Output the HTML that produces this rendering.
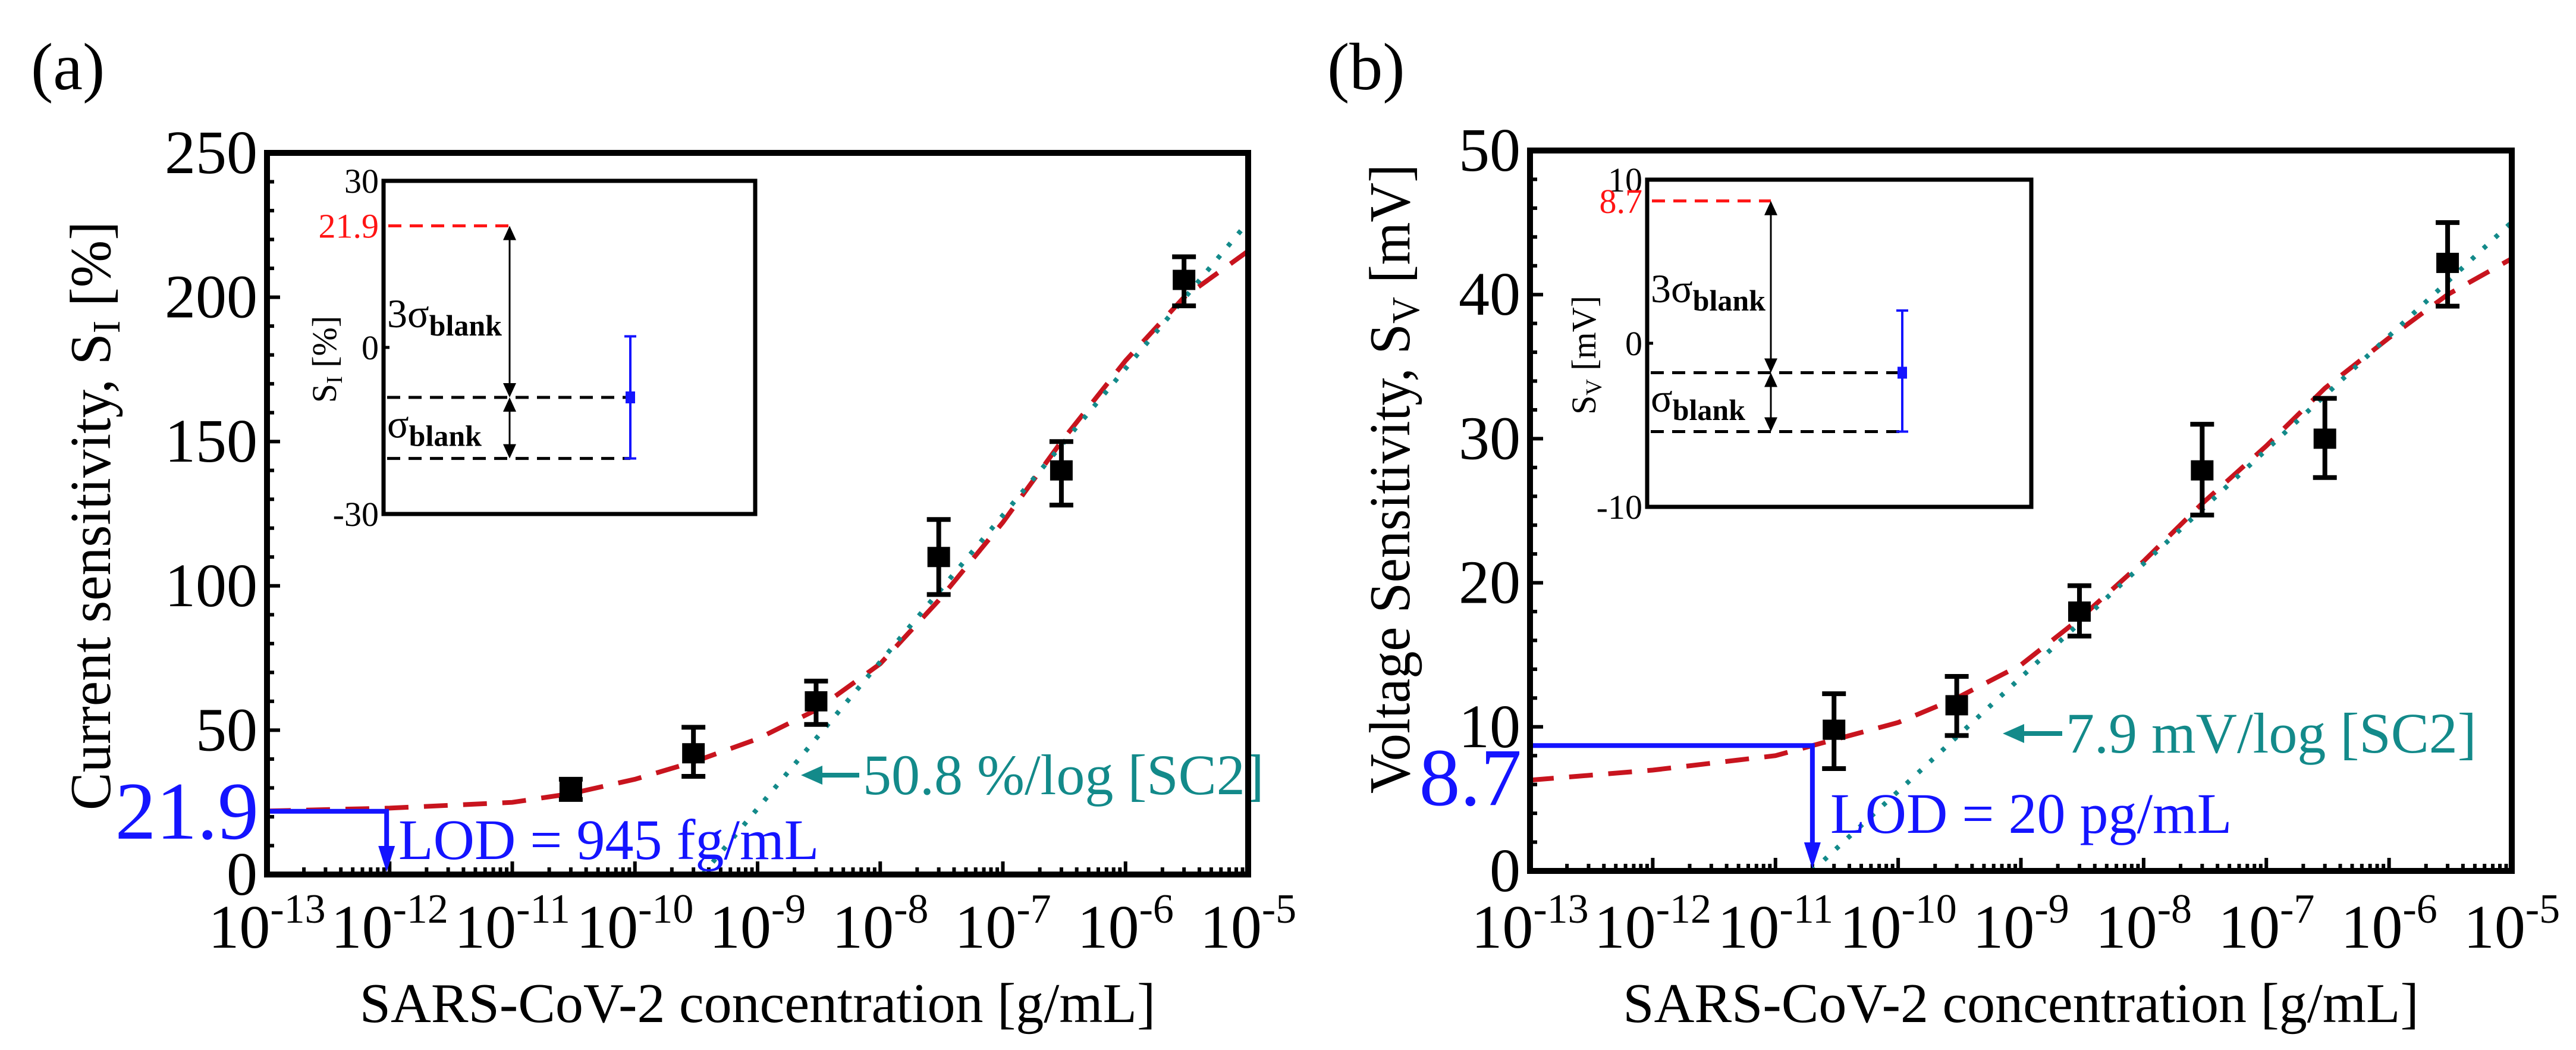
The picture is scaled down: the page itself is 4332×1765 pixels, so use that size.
<!DOCTYPE html>
<html><head><meta charset="utf-8"><style>
html,body{margin:0;padding:0;background:#fff;}
svg, svg text{font-family:"Liberation Serif","Times New Roman",serif;}
svg{display:block;}
</style></head><body>
<svg id="fig" width="4332" height="1765" viewBox="0 0 4332 1765" xmlns="http://www.w3.org/2000/svg" font-family="Liberation Serif, serif">
</svg>
<script>
// ---------- Panel (a) data ----------
const concA = [3e-11, 3e-10, 3e-9, 3e-8, 3e-7, 3e-6];
const valuesA = [29, 42, 60, 110, 140, 206];
const errLoA = [26, 34, 52, 97, 128, 197];
const errHiA = [33, 51, 67, 123, 150, 214];
const fitXA = [1e-13, 1e-12, 1e-11, 3e-11, 1e-10, 3e-10, 1e-9, 3e-9, 1e-8, 3e-8, 1e-7, 3e-7, 1e-6, 3e-6, 1e-5];
const fitYA = [22, 23, 25, 28, 33, 39, 47, 57, 73, 95, 122, 150, 178, 200, 216];
const slopeA = 50.8, logX0A = -9.45;
const lodA = 21.9, lodXA = 9.45e-13;
const yTicksA = [0, 50, 100, 150, 200, 250];
const insetTicksA = [30, 0, -30];
const insetBlankA = [-9, -20, 2]; // mean, lower, upper
// ---------- Panel (b) data ----------
const concB = [3e-11, 3e-10, 3e-9, 3e-8, 3e-7, 3e-6];
const valuesB = [9.8, 11.5, 18, 27.8, 30, 42.2];
const errLoB = [7.1, 9.4, 16.3, 24.7, 27.3, 39.2];
const errHiB = [12.3, 13.5, 19.8, 31, 32.8, 45];
const fitXB = [1e-13, 1e-12, 1e-11, 2e-11, 1e-10, 3e-10, 1e-9, 3e-9, 1e-8, 3e-8, 1e-7, 3e-7, 1e-6, 3e-6, 1e-5];
const fitYB = [6.3, 7.0, 8.0, 8.7, 10.3, 12, 14.3, 17.5, 21.5, 25.5, 29.5, 33.5, 37, 40, 42.5];
const slopeB = 7.9, logX0B = -10.7;
const lodB = 8.7, lodXB = 2e-11;
const yTicksB = [0, 10, 20, 30, 40, 50];
const insetTicksB = [10, 0, -10];
const insetBlankB = [-1.8, -5.4, 2.0];
const xDecades = [-13, -12, -11, -10, -9, -8, -7, -6, -5];

const NS = "http://www.w3.org/2000/svg";
const svg = document.getElementById('fig');
function mk(tag, attrs, parent, text) {
  const e = document.createElementNS(NS, tag);
  for (const k in attrs) e.setAttribute(k, attrs[k]);
  if (tag === 'text') e.setAttribute('font-family', 'Liberation Serif, serif');
  if (text !== undefined) e.textContent = text;
  (parent || svg).appendChild(e);
  return e;
}

function panel(P) {
  const g = mk('g', {});
  
  
  const L = P.box[0], R = P.box[1], T = P.box[2], B = P.box[3];
  const lx = v => L + (Math.log10(v) + 13) / 8 * (R - L);
  const ly = v => B - (v - P.yMin) / (P.yMax - P.yMin) * (B - T);

  const lt = mk('text', {x: P.letterX, y: 150, 'font-size': 112}, g, P.letter);
  
  

  const tg = mk('g', {stroke: '#000', 'stroke-width': 6}, g);
  
  
  xDecades.forEach((d, i) => {
    const x = lx(Math.pow(10, d));
    mk('line', {x1: x, x2: x, y1: B, y2: B - 22}, tg);
    if (i < xDecades.length - 1) for (let m = 2; m <= 9; m++) {
      const xm = lx(m * Math.pow(10, d));
      mk('line', {x1: xm, x2: xm, y1: B, y2: B - 12}, tg);
    }
    const t = mk('text', {x: x, y: 1593, 'font-size': 104, 'text-anchor': 'middle', fill: '#000', stroke: 'none'}, g);
    
    
    mk('tspan', {}, t, '10');
    mk('tspan', {dy: -42, 'font-size': 70}, t, String(d));
  });
  const step = P.yTicks[1] - P.yTicks[0];
  P.yTicks.forEach((v, i) => {
    const y = ly(v);
    mk('line', {x1: L, x2: L + 22, y1: y, y2: y}, tg);
    if (i < P.yTicks.length - 1) for (let k = 1; k < 5; k++) {
      const ym = ly(v + step * k / 5);
      mk('line', {x1: L, x2: L + 12, y1: ym, y2: ym}, tg);
    }
    const t = mk('text', {x: L - 16, y: y + 34, 'font-size': 104, 'text-anchor': 'end'}, g, String(v));
    
    
  });

  const xt = mk('text', {x: (L + R) / 2, y: 1718, 'font-size': 94, 'text-anchor': 'middle'}, g, 'SARS-CoV-2 concentration [g/mL]');
  
  
  const yt = mk('text', {transform: `translate(${P.yTitleX},${P.yTitleY}) rotate(-90)`, 'font-size': 98, 'text-anchor': 'middle', textLength: P.yTitleLen, lengthAdjust: 'spacingAndGlyphs'}, g);
  
  
  mk('tspan', {}, yt, P.yTitle);
  mk('tspan', {dy: 16, 'font-size': 66}, yt, P.yTitleSub);
  mk('tspan', {dy: -16}, yt, P.yTitleEnd);

  let d = '';
  P.fitX.forEach((x, i) => { d += (i ? 'L' : 'M') + lx(x).toFixed(1) + ',' + ly(P.fitY[i]).toFixed(1); });
  const fit = mk('path', {d: d, fill: 'none', stroke: '#c8141e', 'stroke-width': 8, 'stroke-dasharray': '40 26'}, g);
  
  

  const x0 = Math.pow(10, P.logX0);
  const yEnd = P.slope * (-5 - P.logX0);
  const lin = mk('line', {x1: lx(x0), y1: ly(0), x2: lx(1e-5), y2: ly(yEnd), stroke: '#138a8a', 'stroke-width': 8, 'stroke-dasharray': '7 20'}, g);
  
  

  P.conc.forEach((c, i) => {
    const x = lx(c);
    const pg = mk('g', {stroke: '#000', 'stroke-width': 8}, g);
    
    
    mk('line', {x1: x, x2: x, y1: ly(P.lo[i]), y2: ly(P.hi[i])}, pg);
    mk('line', {x1: x - 20, x2: x + 20, y1: ly(P.lo[i]), y2: ly(P.lo[i])}, pg);
    mk('line', {x1: x - 20, x2: x + 20, y1: ly(P.hi[i]), y2: ly(P.hi[i])}, pg);
    mk('rect', {x: x - 19, y: ly(P.vals[i]) - 17, width: 38, height: 34, fill: '#000', stroke: 'none'}, pg);
  });

  const lg = mk('g', {stroke: '#1414ff', 'stroke-width': 8, fill: 'none'}, g);
  
  
  const lxv = lx(P.lodX);
  mk('polyline', {points: `${L},${ly(P.lod)} ${lxv},${ly(P.lod)} ${lxv},${B - 40}`}, lg);
  mk('path', {d: `M${lxv - 14},${B - 48} L${lxv + 14},${B - 48} L${lxv},${B - 4} z`, fill: '#1414ff', stroke: 'none'}, lg);
  const lv = mk('text', {x: L - 14, y: ly(P.lod) + P.lodLabelDy, 'font-size': 138, 'text-anchor': 'end', fill: '#1414ff'}, g, String(P.lod));
  
  
  const lt2 = mk('text', {x: P.lodTextX, y: P.lodTextY, 'font-size': 96, fill: '#1414ff'}, g, P.lodText);
  
  

  const sa = mk('g', {}, g);
  
  
  mk('line', {x1: P.slopeArrow[0] + 30, x2: P.slopeArrow[1], y1: P.slopeArrow[2], y2: P.slopeArrow[2], stroke: '#138a8a', 'stroke-width': 8}, sa);
  mk('path', {d: `M${P.slopeArrow[0]},${P.slopeArrow[2]} l36,-16 l0,32 z`, fill: '#138a8a'}, sa);
  mk('text', {x: P.slopeArrow[1] + 6, y: P.slopeArrow[2] + 32, 'font-size': 96, fill: '#138a8a'}, sa, P.slopeText);

  const I = P.inset;
  const ig = mk('g', {}, g);
  
  
  const iy = v => I[3] - (v - P.insetTicks[2]) / (P.insetTicks[0] - P.insetTicks[2]) * (I[3] - I[2]);
  P.insetTicks.forEach(v => {
    mk('line', {x1: I[0], x2: I[0] + 10, y1: iy(v), y2: iy(v), stroke: '#000', 'stroke-width': 5}, ig);
    const t = mk('text', {x: I[0] - 8, y: iy(v) + 20, 'font-size': 58, 'text-anchor': 'end'}, ig, String(v));
    
    
  });
  const lodY = iy(P.lod);
  const rt = mk('text', {x: I[0] - 8, y: lodY + 20, 'font-size': 58, 'text-anchor': 'end', fill: '#ff1414'}, ig, String(P.lod));
  
  
  const ax = P.insetArrowX, bx = P.insetBarX;
  mk('line', {x1: I[0] + 8, x2: ax, y1: lodY, y2: lodY, stroke: '#ff1414', 'stroke-width': 5, 'stroke-dasharray': '22 14'}, ig);
  const m = iy(P.blank[0]), lo = iy(P.blank[1]), hi = iy(P.blank[2]);
  mk('line', {x1: I[0] + 6, x2: bx, y1: m, y2: m, stroke: '#000', 'stroke-width': 5, 'stroke-dasharray': '22 14'}, ig);
  mk('line', {x1: I[0] + 6, x2: bx, y1: lo, y2: lo, stroke: '#000', 'stroke-width': 5, 'stroke-dasharray': '22 14'}, ig);
  const arr = (y1, y2) => {
    mk('line', {x1: ax, x2: ax, y1: y1 + 20, y2: y2 - 20, stroke: '#000', 'stroke-width': 3}, ig);
    mk('path', {d: `M${ax},${y1} l-11,24 l22,0 z`, fill: '#000'}, ig);
    mk('path', {d: `M${ax},${y2} l-11,-24 l22,0 z`, fill: '#000'}, ig);
  };
  arr(lodY, m); arr(m, lo);
  const bb = mk('g', {stroke: '#1414ff', 'stroke-width': 4}, ig);
  
  
  mk('line', {x1: bx, x2: bx, y1: hi, y2: lo}, bb);
  mk('line', {x1: bx - 10, x2: bx + 10, y1: hi, y2: hi}, bb);
  mk('line', {x1: bx - 10, x2: bx + 10, y1: lo, y2: lo}, bb);
  mk('rect', {x: bx - 8, y: m - 10, width: 16, height: 20, fill: '#1414ff', stroke: 'none'}, bb);
  const t3 = mk('text', {x: I[0] + 6, y: (lodY + m) / 2 + 26, 'font-size': 68}, ig);
  
  
  mk('tspan', {}, t3, '3σ');
  mk('tspan', {dy: 14, 'font-size': 50, 'font-weight': 'bold'}, t3, 'blank');
  const t1 = mk('text', {x: I[0] + 6, y: (m + lo) / 2 + 16, 'font-size': 68}, ig);
  
  
  mk('tspan', {}, t1, 'σ');
  mk('tspan', {dy: 14, 'font-size': 50, 'font-weight': 'bold'}, t1, 'blank');
  const iyl = mk('text', {transform: `translate(${P.insetYLabelX},${(I[2] + I[3]) / 2 + 20}) rotate(-90)`, 'font-size': 58, 'text-anchor': 'middle'}, ig);
  
  
  mk('tspan', {}, iyl, 'S');
  mk('tspan', {dy: 10, 'font-size': 38}, iyl, P.yTitleSub);
  mk('tspan', {dy: -10}, iyl, P.insetUnit);
  mk('rect', {x: I[0], y: I[2], width: I[1] - I[0], height: I[3] - I[2], fill: 'none', stroke: '#000', 'stroke-width': 7}, ig);

  const bx2 = mk('rect', {x: L, y: T, width: R - L, height: B - T, fill: 'none', stroke: '#000', 'stroke-width': 10}, g);
  
  
}

panel({name: 'panel-a', letter: '(a)', letterX: 52, box: [449, 2099, 257, 1470], yMin: 0, yMax: 250, yTicks: yTicksA,
  conc: concA, vals: valuesA, lo: errLoA, hi: errHiA, fitX: fitXA, fitY: fitYA, slope: slopeA, logX0: logX0A,
  lod: lodA, lodX: lodXA, lodLabelDy: 46, lodText: 'LOD = 945 fg/mL', lodTextX: 670, lodTextY: 1444,
  slopeArrow: [1347, 1445, 1303], slopeText: '50.8 %/log [SC2]',
  yTitle: 'Current sensitivity, S', yTitleSub: 'I', yTitleEnd: ' [%]', yTitleX: 185, yTitleY: 867, yTitleLen: 990,
  inset: [645, 1270, 304, 864], insetTicks: insetTicksA, blank: insetBlankA, insetArrowX: 857, insetBarX: 1060,
  insetYLabelX: 565, insetUnit: ' [%]'});
panel({name: 'panel-b', letter: '(b)', letterX: 2232, box: [2573, 4224, 253, 1464], yMin: 0, yMax: 50, yTicks: yTicksB,
  conc: concB, vals: valuesB, lo: errLoB, hi: errHiB, fitX: fitXB, fitY: fitYB, slope: slopeB, logX0: logX0B,
  lod: lodB, lodX: lodXB, lodLabelDy: 100, lodText: 'LOD = 20 pg/mL', lodTextX: 3078, lodTextY: 1400,
  slopeArrow: [3368, 3468, 1233], slopeText: '7.9 mV/log [SC2]',
  yTitle: 'Voltage Sensitivity, S', yTitleSub: 'V', yTitleEnd: ' [mV]', yTitleX: 2370, yTitleY: 805, yTitleLen: 1058,
  inset: [2770, 3416, 302, 852], insetTicks: insetTicksB, blank: insetBlankB, insetArrowX: 2978, insetBarX: 3199,
  insetYLabelX: 2683, insetUnit: ' [mV]'});
</script>
</body></html>
